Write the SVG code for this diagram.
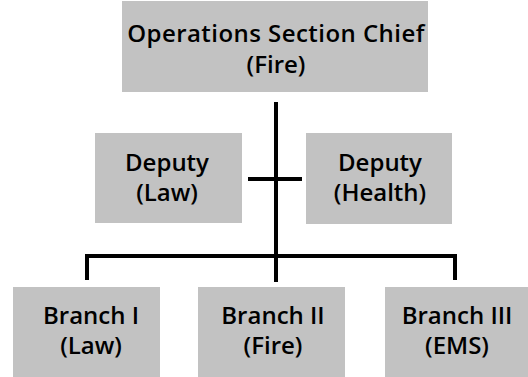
<svg xmlns="http://www.w3.org/2000/svg" width="528" height="377" viewBox="0 0 528 377">
<style>
.box{fill:#c2c2c2;}
.t{font-family:"Open Sans","Noto Sans",sans-serif;font-size:24px;font-weight:600;fill:#000;text-anchor:middle;}
.ln{stroke:#000;stroke-width:4;fill:none;stroke-linecap:butt;}
</style>
<rect width="528" height="377" fill="#fff"/>
<g id="connectors">
<line class="ln" x1="276" y1="102" x2="276" y2="282"/>
<line class="ln" x1="248" y1="179" x2="302" y2="179"/>
<polyline class="ln" points="87,280 87,256 455,256 455,280"/>
</g>
<g id="chief">
<rect class="box" x="122" y="1" width="306" height="91"/>
<text class="t" x="276" y="42" letter-spacing="0.45">Operations Section Chief</text>
<text class="t" x="276" y="73">(Fire)</text>
</g>
<g id="deputy-law">
<rect class="box" x="95" y="133" width="147" height="90"/>
<text class="t" x="167" y="171">Deputy</text>
<text class="t" x="167" y="201">(Law)</text>
</g>
<g id="deputy-health">
<rect class="box" x="306" y="133" width="146" height="91"/>
<text class="t" x="380" y="171">Deputy</text>
<text class="t" x="380" y="201">(Health)</text>
</g>
<g id="branch-1">
<rect class="box" x="13" y="287" width="147" height="90"/>
<text class="t" x="91" y="324">Branch I</text>
<text class="t" x="91" y="354">(Law)</text>
</g>
<g id="branch-2">
<rect class="box" x="198" y="287" width="147" height="90"/>
<text class="t" x="273" y="324">Branch II</text>
<text class="t" x="273" y="354">(Fire)</text>
</g>
<g id="branch-3">
<rect class="box" x="385" y="287" width="143" height="90"/>
<text class="t" x="457" y="324">Branch III</text>
<text class="t" x="457" y="354">(EMS)</text>
</g>
</svg>
